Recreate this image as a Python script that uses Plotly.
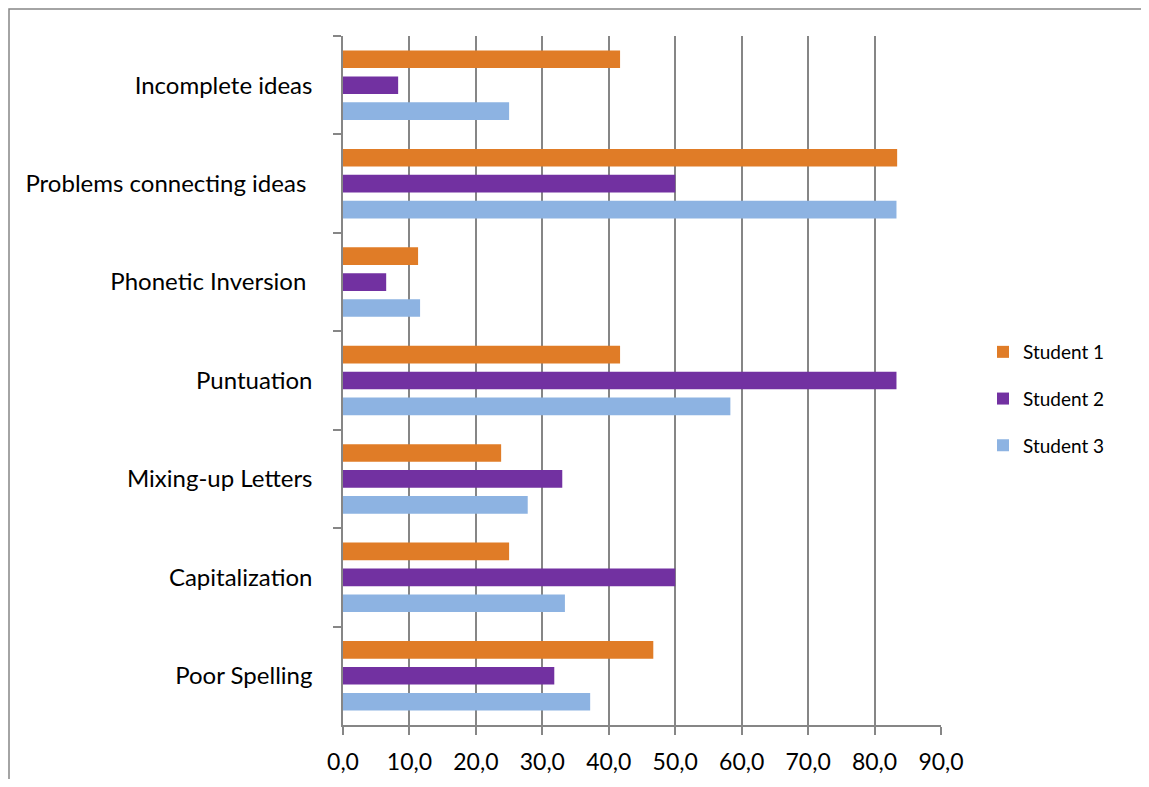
import plotly.graph_objects as go

categories = ["Incomplete ideas", "Problems connecting ideas ", "Phonetic Inversion ",
              "Puntuation", "Mixing-up Letters", "Capitalization", "Poor Spelling"]
student1 = [41.7, 83.4, 11.3, 41.7, 23.8, 25.0, 46.7]
student2 = [8.3, 50.0, 6.5, 83.3, 33.0, 50.0, 31.8]
student3 = [25.0, 83.3, 11.6, 58.3, 27.8, 33.4, 37.2]
series_names = ["Student 1", "Student 2", "Student 3"]
colors = ["#E07C27", "#7231A1", "#8DB3E2"]
x_ticks = [0, 10, 20, 30, 40, 50, 60, 70, 80, 90]

fig = go.Figure()
for name, vals, col in zip(series_names, [student1, student2, student3], colors):
    fig.add_trace(go.Bar(
        y=categories, x=vals, name=name, orientation="h",
        marker=dict(color=col, line=dict(width=0)),
        legendgroup=name,
    ))

W, H = 1133, 771
L, T, PW, PH = 335, 28, 598, 689
font_family = "Lato, 'Open Sans', sans-serif"
fig.update_layout(
    width=W, height=H,
    margin=dict(l=L, r=W - L - PW, t=T, b=H - T - PH, autoexpand=False),
    paper_bgcolor="white", plot_bgcolor="white",
    barmode="group", bargap=0.21, bargroupgap=0.32,
    separators=", ",
    font=dict(family=font_family, size=24, color="black"),
    showlegend=True,
    legend=dict(x=(983 - 343) / PW, y=(725 - 399) / PH, xanchor="left", yanchor="middle",
                font=dict(size=19), tracegroupgap=19, itemwidth=30,
                bgcolor="rgba(0,0,0,0)"),
    xaxis=dict(range=[0, 90], tickvals=x_ticks, tickformat=".1f",
               showgrid=True, gridcolor="#868686", gridwidth=1.5,
               showline=True, linecolor="#868686", linewidth=1.5,
               ticks="outside", ticklen=8, tickcolor="#868686", tickwidth=1.5,
               zeroline=False, tickfont=dict(size=23), ticklabelstandoff=8,
               automargin=False),
    yaxis=dict(categoryorder="array", categoryarray=categories, autorange="reversed",
               showline=True, linecolor="#868686", linewidth=1.5,
               ticks="outside", ticklen=8, tickcolor="#868686", tickwidth=1.5,
               tickson="boundaries", showgrid=False, ticklabelstandoff=24,
               tickfont=dict(size=24), automargin=False),
    shapes=[dict(type="rect", xref="paper", yref="paper",
                 x0=(1 - L) / PW, x1=(1160 - L) / PW,
                 y0=-0.2, y1=(PH + T - 1) / PH,
                 line=dict(color="#868686", width=1.5), layer="below")],
)

fig.write_html("out.html")
